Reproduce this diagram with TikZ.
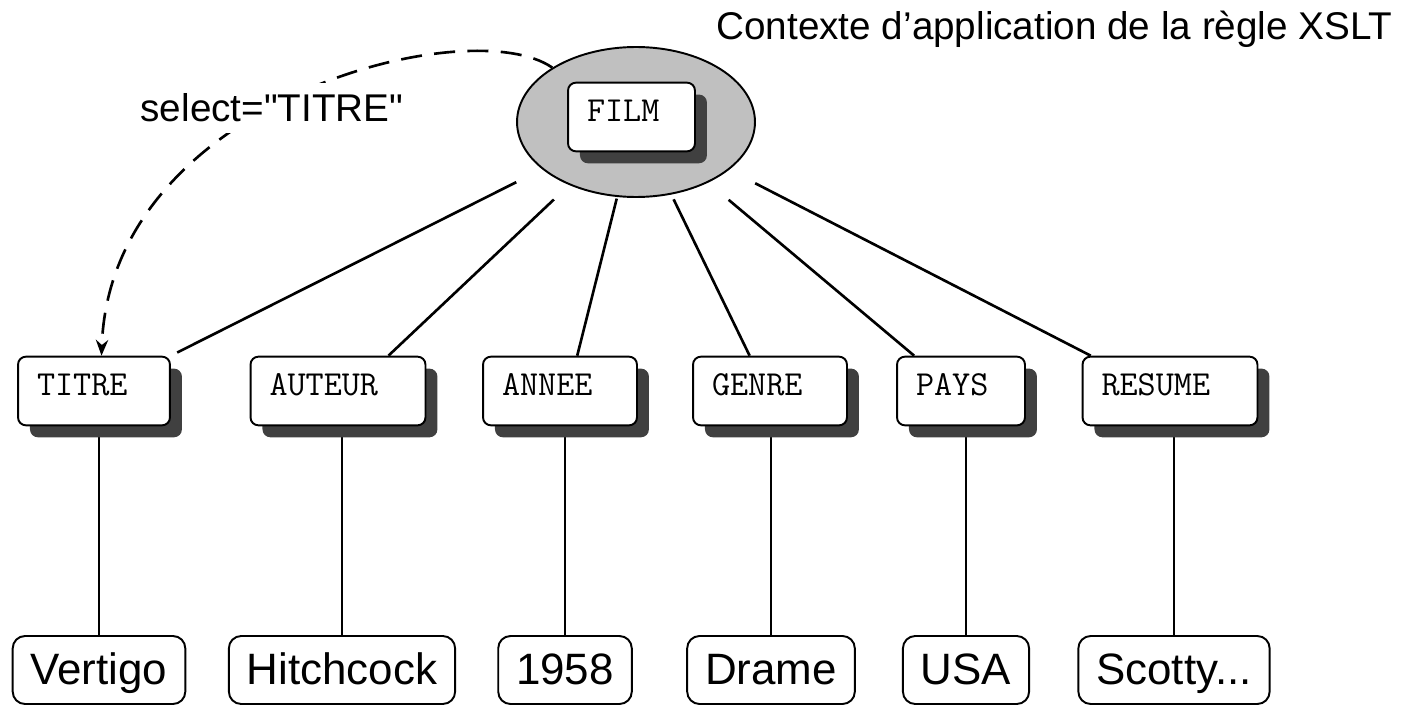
\documentclass[tikz,border=0pt]{standalone}
\usepackage{fontspec}
\newfontfamily\labfont{Liberation Sans}
\usetikzlibrary{shapes.geometric, shadows, arrows.meta, backgrounds}
\definecolor{ctxgray}{HTML}{C0C0C0}
\definecolor{shadowgray}{HTML}{404040}
\tikzset{
  elem/.style={shape=rectangle, draw, line width=1.1pt, rounded corners=4.5pt, fill=white,
    font=\ttfamily\fontsize{20}{24}\selectfont, inner xsep=10.8pt, inner ysep=4.5pt,
    text height=17.6pt, text depth=12.5pt,
    drop shadow={shadow xshift=6.8pt, shadow yshift=-6.8pt, fill=shadowgray, opacity=1}},
  leaf/.style={shape=rectangle, draw, line width=1.1pt, rounded corners=7pt, fill=white,
    font=\labfont\fontsize{25}{30}\selectfont, inner xsep=10.2pt, inner ysep=0pt,
    minimum height=1.36cm, text height=22.5pt, text depth=5.5pt},
  link/.style={line width=1.5pt},
}

\begin{document}
\begin{tikzpicture}[x=0.02cm, y=-0.02cm]
    \useasboundingbox (0, 0) rectangle (1403, 706);

    \node at (636, 122) (ctx) [shape=ellipse, draw, fill=ctxgray, line width=1.1pt,
      minimum width=4.76cm, minimum height=3cm] {};
    \node at (631.5, 117) (FILM) [elem, text width=1.78cm] {FILM};

    \node at (94, 391) (TITRE) [elem, text width=2.28cm] {TITRE};
    \node at (338, 391) (AUTEUR) [elem, text width=2.74cm] {AUTEUR};
    \node at (560, 391) (ANNEE) [elem, text width=2.32cm] {ANNEE};
    \node at (770, 391) (GENRE) [elem, text width=2.32cm] {GENRE};
    \node at (961, 391) (PAYS) [elem, text width=1.8cm] {PAYS};
    \node at (1170, 391) (RESUME) [elem, text width=2.74cm] {RESUME};

    \node at (99, 670) (Vertigo) [leaf] {Vertigo};
    \node at (342, 670) (Hitchcock) [leaf] {Hitchcock};
    \node at (565, 670) (y1958) [leaf] {1958};
    \node at (771, 670) (Drame) [leaf] {Drame};
    \node at (966, 670) (USA) [leaf] {USA};
    \node at (1174, 670) (Scotty) [leaf] {Scotty...};

    \node at (1393, 40) (title) [anchor=base east, inner sep=0pt,
      font=\labfont\fontsize{22}{26}\selectfont] {Contexte d’application de la règle XSLT};

    % edges from the context node
    \begin{scope}[on background layer]
      \draw[link, shorten <=2.68cm, shorten >=4pt] (ctx.center) -- (TITRE.north east);
      \draw[link, shorten <=2.26cm] (ctx.center) -- (AUTEUR.35);
      \draw[link, shorten <=1.58cm] (ctx.center) -- (ANNEE.64);
      \draw[link, shorten <=1.72cm] (ctx.center) -- (GENRE.120);
      \draw[link, shorten <=2.42cm] (ctx.center) -- (PAYS.143);
      \draw[link, shorten <=2.68cm] (ctx.center) -- (RESUME.156);

      \draw[link] (Vertigo.north) -- (Vertigo.north |- TITRE.south);
      \draw[link] (Hitchcock.north) -- (Hitchcock.north |- AUTEUR.south);
      \draw[link] (y1958.north) -- (y1958.north |- ANNEE.south);
      \draw[link] (Drame.north) -- (Drame.north |- GENRE.south);
      \draw[link] (USA.north) -- (USA.north |- PAYS.south);
      \draw[link] (Scotty.north) -- (Scotty.north |- RESUME.south);
    \end{scope}

    % select arrow, label on top of it
    \draw[link, dash pattern=on 12pt off 7pt, -{Stealth[length=9pt, width=7pt]}]
      (ctx.147) .. controls (470, 10) and (110, 100) .. (TITRE.78);
    \node at (135, 122) (sel) [anchor=base west, inner xsep=3pt, inner ysep=6pt, fill=white,
      font=\labfont\fontsize{22}{26}\selectfont] {select="TITRE"};
\end{tikzpicture}
\end{document}
